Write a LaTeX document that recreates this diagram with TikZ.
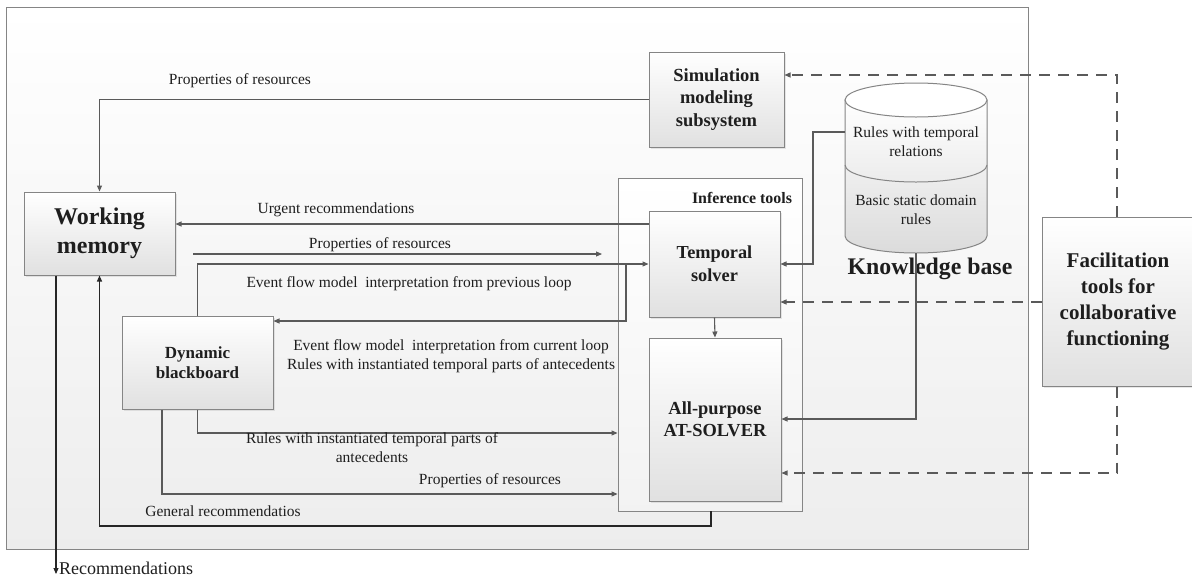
\documentclass[tikz,border=0pt]{standalone}
\usepackage{fontspec}
\setmainfont{Liberation Serif}
\usetikzlibrary{arrows.meta,shadows}
\definecolor{ln}{HTML}{5A5A5A}
\definecolor{bd}{HTML}{858585}
\definecolor{txt}{HTML}{1E1E1E}
\tikzset{
 box/.style={draw=bd, line width=1pt, top color=white, bottom color=black!12, text=txt, align=center, inner sep=0pt,
   drop shadow={opacity=0.18,shadow xshift=1.5pt,shadow yshift=-1.5pt}},
 conn/.style={draw=ln, line width=1.1pt, -{Triangle[length=6pt,width=5pt]}},
 dconn/.style={conn, dash pattern=on 11pt off 8pt},
 lbl/.style={text=txt, font=\fontsize{15.5}{19}\selectfont, inner sep=0pt, align=center},
}
\begin{document}
\begin{tikzpicture}[x=1pt,y=-1pt]
\useasboundingbox (0,0) rectangle (1192,579);
% outer frame
\node[draw=bd, line width=1pt, top color=white, bottom color=black!7, minimum width=1022pt, minimum height=542pt, inner sep=0pt] (frame) at (517,278) {};
% inference tools frame
\node[draw=bd, line width=0.9pt, top color=white, bottom color=black!5, minimum width=184pt, minimum height=333pt, inner sep=0pt] (inf) at (710,344.5) {};
\node[font=\fontsize{15.9}{19}\selectfont\bfseries, text=txt, inner sep=0pt] (inflbl) at (742,198) {Inference tools};
% boxes
\node[box, font=\fontsize{24}{29}\selectfont\bfseries, minimum width=151pt, minimum height=83pt] (wm) at (99.5,233.5) {Working\\memory};
\node[box, font=\fontsize{18.5}{22.5}\selectfont\bfseries, minimum width=135pt, minimum height=95pt] (sim) at (716.5,99.5) {Simulation\\modeling\\subsystem};
\node[box, font=\fontsize{18.3}{23}\selectfont\bfseries, minimum width=131pt, minimum height=106pt] (ts) at (714.5,264) {Temporal\\solver};
\node[box, font=\fontsize{18.4}{22}\selectfont\bfseries, minimum width=132pt, minimum height=163pt] (at) at (715,419.5) {All-purpose\\AT-SOLVER};
\node[box, font=\fontsize{17}{20}\selectfont\bfseries, minimum width=151pt, minimum height=93pt] (db) at (197.5,362.5) {Dynamic\\blackboard};
\node[box, font=\fontsize{21}{26}\selectfont\bfseries, minimum width=152pt, minimum height=169pt] (fac) at (1118,301.5) {Facilitation\\tools for\\collaborative\\functioning};
% knowledge base cylinder
\path[draw=bd, line width=1pt, top color=white, bottom color=black!14]
  (845,100) -- (845,236) .. controls (845,245.4) and (876.8,253) .. (916,253)
  .. controls (955.2,253) and (987,245.4) .. (987,236) -- (987,100) -- cycle;
\draw[draw=bd, line width=1pt, fill=white] (916,100) ellipse [x radius=71pt, y radius=17pt];
\draw[draw=bd, line width=1pt] (845,165) .. controls (845,174.4) and (876.8,182) .. (916,182)
  .. controls (955.2,182) and (987,174.4) .. (987,165);
\node[lbl] (kbt) at (916,141.5) {Rules with temporal\\relations};
\node[lbl] (kbs) at (916,209.5) {Basic static domain\\rules};
\node[font=\fontsize{23.8}{28}\selectfont\bfseries, text=txt, inner sep=0pt] (kbl) at (930,269) {Knowledge base};
\coordinate (kbL) at (845,132);
\coordinate (kbB) at (916,253);
% connectors
\draw[conn] (sim.west) -| (wm.north);
\node[lbl] (l1) at (240,81) {Properties of resources};
\draw[conn] (ts.west |- 0,224) -- (wm.east |- 0,224);
\node[lbl] (l2) at (336,210) {Urgent recommendations};
\coordinate (p1s) at (193,254);
\coordinate (p1e) at (602,254);
\draw[conn] (p1s) -- (p1e);
\node[lbl] (l3) at (380,245) {Properties of resources};
\draw[conn] (db.north) -- (197.5,264) -- (ts.west |- 0,264);
\node[lbl] (l4) at (409,284) {Event flow model~ interpretation from previous loop};
\coordinate (jn) at (626,264);
\draw[conn] (jn) -- (626,321) -- (db.east |- 0,321);
\node[lbl] (l5) at (451,356) {Event flow model~ interpretation from current loop\\Rules with instantiated temporal parts of antecedents};
\draw[conn] (db.south) -- (197.5,433) -- (inf.west |- 0,433);
\node[lbl] (l6) at (372,448) {Rules with instantiated temporal parts of\\antecedents};
\draw[conn] (db.south -| 162,0) -- (162,494) -- (inf.west |- 0,494);
\node[lbl] (l7) at (490,481) {Properties of resources};
\draw[conn, draw=black!85] (inf.south -| 711,0) -- (711,526) -- (99.5,526) -- (wm.south);
\node[lbl] (l8) at (223,511) {General recommendatios};
\coordinate (recpt) at (56,574);
\draw[conn, draw=black!85] (wm.south -| 56,0) -- (recpt);
\node[lbl, anchor=west, font=\fontsize{18}{20}\selectfont] (rec) at (59,568) {Recommendations};
\draw[conn] (ts.south) -- (at.north);
\draw[conn] (kbL) -- (813,132) -- (813,264) -- (ts.east |- 0,264);
\draw[conn] (kbB) -- (916,419) -- (at.east |- 0,419);
% dashed
\draw[dconn] (fac.north -| 1117,0) -- (1117,75) -- (sim.east |- 0,75);
\draw[dconn] (fac.west |- 0,302) -- (ts.east |- 0,302);
\draw[dconn] (fac.south -| 1117,0) -- (1117,473) -- (at.east |- 0,473);
\end{tikzpicture}
\end{document}
